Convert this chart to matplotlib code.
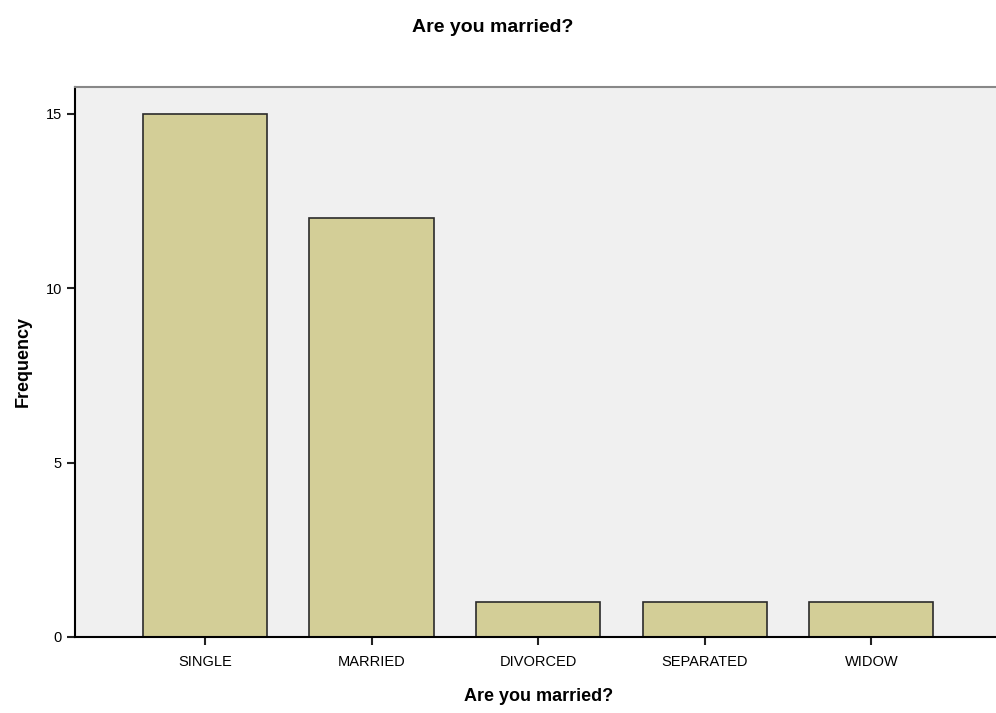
import matplotlib
matplotlib.use('Agg')
import matplotlib.pyplot as plt

categories = ['SINGLE', 'MARRIED', 'DIVORCED', 'SEPARATED', 'WIDOW']
counts = [15, 12, 1, 1, 1]
yticks = [0, 5, 10, 15]

plt.rcParams['font.family'] = ['Liberation Sans', 'DejaVu Sans']

fig = plt.figure(figsize=(9.96, 7.13), dpi=100)
ax = fig.add_axes([0.0753, 0.1066, 0.93, 0.7714])
ax.set_facecolor('#F0F0F0')

x = list(range(len(categories)))
ax.bar(x, counts, width=0.745, color='#D3CE97', edgecolor='#2b2b2b', linewidth=1.2, zorder=2)

ax.set_xlim(-0.78, 4.78)
ax.set_ylim(0, 15.77)
ax.set_xticks(x)
ax.set_xticklabels(categories, fontsize=10.5)
ax.set_yticks(yticks)
ax.set_yticklabels([str(t) for t in yticks], fontsize=10.5)
ax.tick_params(axis='both', length=6, width=1.5, color='#222222')
ax.tick_params(axis='x', pad=7)

ax.spines['left'].set_linewidth(1.5)
ax.spines['bottom'].set_linewidth(1.5)
ax.spines['top'].set_color('#888888')
ax.spines['top'].set_linewidth(1.5)
ax.spines['right'].set_visible(False)

ax.set_xlabel('Are you married?', fontsize=13, fontweight='bold', labelpad=14)
ax.set_ylabel('Frequency', fontsize=13, fontweight='bold', labelpad=10)
fig.text(0.495, 0.961, 'Are you married?', fontsize=14, fontweight='bold', ha='center', va='center')

fig.savefig('out.png', dpi=100)
